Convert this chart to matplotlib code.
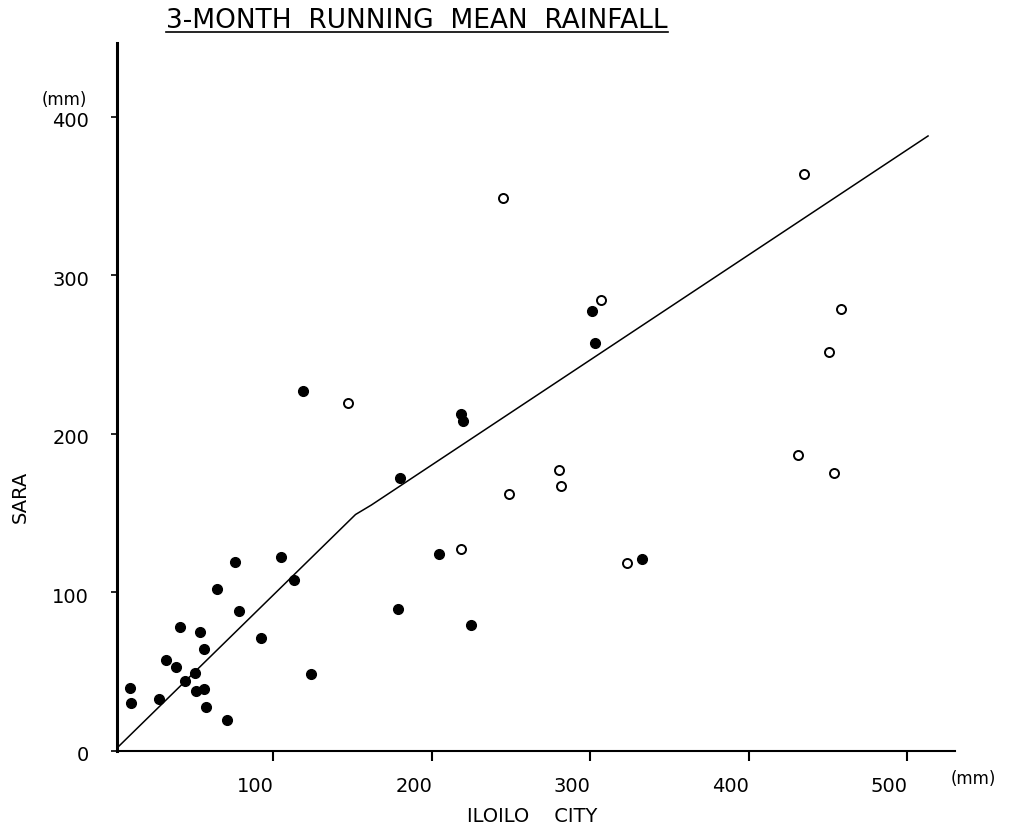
import numpy as np
import matplotlib
matplotlib.use('Agg')
from matplotlib import pyplot as plt
from matplotlib.lines import Line2D
import matplotlib.transforms as mtransforms

#Scatter values (mm)
filled_x = [9.8, 10.6, 28.3, 32.3, 39.0, 41.1, 44.3, 51.2, 56.3, 51.0, 53.9, 56.7, 57.5, 64.9, 70.8,
            75.8, 78.4, 92.2, 105.2, 113.1, 123.8, 119.1, 218.4, 219.7, 180.1, 204.5, 178.7, 224.7,
            301.1, 303.2, 332.4]
filled_y = [39.3, 29.8, 32.3, 57.2, 52.9, 78.2, 44.1, 37.8, 38.9, 48.8, 74.7, 64.3, 27.5, 102.0, 19.5,
            119.3, 88.3, 70.9, 122.0, 107.9, 48.1, 226.7, 212.6, 208.1, 172.1, 123.9, 89.2, 79.5,
            277.5, 257.4, 121.0]
open_x = [147.1, 218.4, 244.9, 306.5, 280.0, 281.3, 248.7, 323.3, 434.6, 457.9, 450.3, 431.0, 453.5]
open_y = [219.3, 127.1, 349.0, 284.6, 176.8, 167.1, 161.8, 118.6, 364.2, 278.9, 251.3, 186.7, 175.5]

#Fitted line
line_x = [0, 152, 162, 513]
line_y = [0, 149, 155, 388]

x_ticks = [100, 200, 300, 400, 500]
y_ticks = [0, 100, 200, 300, 400]

plt.rcParams['font.family'] = ['DejaVu Sans']

W, H = 1013, 832
fig = plt.figure(figsize=(W / 100, H / 100), dpi=100)
ax = fig.add_axes([117 / W, 1 - 750.5 / H, (955 - 117) / W, (750.5 - 43) / H])

ax.plot(line_x, line_y, color='black', lw=1.1, zorder=2)
ax.plot(filled_x, filled_y, 'o', color='black', ms=7, zorder=3)
ax.plot(open_x, open_y, 'o', mfc='white', mec='black', mew=1.4, ms=6.5, zorder=3)

ax.set_xlim(1.6, 530)
ax.set_ylim(0, 446.7)

for s in ['top', 'right']:
    ax.spines[s].set_visible(False)
ax.spines['left'].set_linewidth(2.2)
ax.spines['bottom'].set_linewidth(1.5)

ax.set_xticks(x_ticks)
ax.set_yticks(y_ticks)
ax.tick_params(axis='x', direction='out', length=7, width=1.5, pad=12, labelsize=14)
ax.tick_params(axis='y', direction='out', length=4, width=1.2, pad=16, labelsize=14)

#Shift tick labels a little like in the drawing
dx = mtransforms.ScaledTranslation(-18 / 100, 0, fig.dpi_scale_trans)
for lab in ax.get_xticklabels():
    lab.set_transform(lab.get_transform() + dx)
dy = mtransforms.ScaledTranslation(0, -3 / 100, fig.dpi_scale_trans)
for lab in ax.get_yticklabels():
    lab.set_transform(lab.get_transform() + dy)

#Labels
fig.text(532 / W, 1 - 817 / H, 'ILOILO    CITY', ha='center', va='center', fontsize=14)
fig.text(20 / W, 1 - 497 / H, 'SARA', ha='center', va='center', rotation=90, fontsize=14)
fig.text(64 / W, 1 - 100 / H, '(mm)', ha='center', va='center', fontsize=12)
fig.text(973 / W, 1 - 779 / H, '(mm)', ha='center', va='center', fontsize=12)

#Underlined title
title = fig.text(417 / W, 1 - 28 / H, '3-MONTH  RUNNING  MEAN  RAINFALL', ha='center', va='baseline',
                 fontsize=19)
fig.canvas.draw()
bb = title.get_window_extent().transformed(fig.transFigure.inverted())
uy = 1 - 32 / H
fig.add_artist(Line2D([bb.x0, bb.x1], [uy, uy], color='black', lw=1.2, transform=fig.transFigure))

plt.savefig('out.png', dpi=100)
